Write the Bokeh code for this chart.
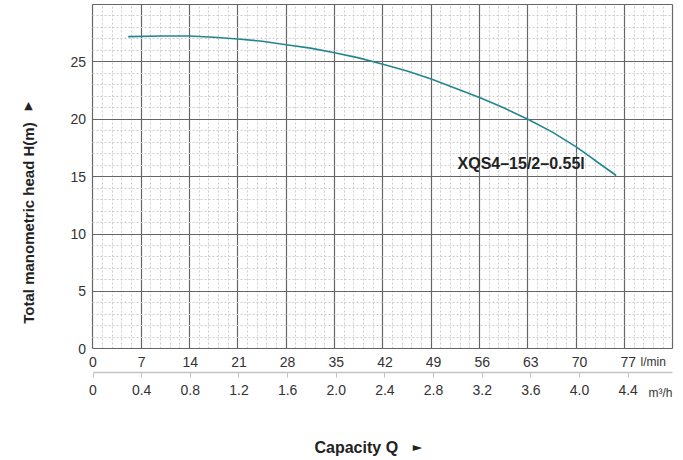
import math
from bokeh.plotting import figure
from bokeh.models import FixedTicker, LinearAxis, Range1d, Label, Grid
from bokeh.embed import file_html
from bokeh.resources import INLINE

# ---- data ----
flow_lpm = [5.1, 10, 14, 17.5, 21, 24.5, 28, 31.5, 35, 38.5, 42, 45.5, 49, 52.5, 56, 59.5, 63, 66.5, 70, 72.1, 73, 75.8]
head_m = [27.2, 27.25, 27.25, 27.15, 27.0, 26.8, 26.5, 26.2, 25.8, 25.35, 24.8, 24.2, 23.5, 22.7, 21.9, 21.0, 20.0, 18.9, 17.6, 16.7, 16.3, 15.1]
lpm_ticks = [0, 7, 14, 21, 28, 35, 42, 49, 56, 63, 70, 77]
lpm_labels = ["0", "7", "14", "21", "28", "35", "42", "49", "56", "63", "70", "77"]
m3h_labels = ["0", "0.4", "0.8", "1.2", "1.6", "2.0", "2.4", "2.8", "3.2", "3.6", "4.0", "4.4"]
head_ticks = [0, 5, 10, 15, 20, 25]
model_name = "XQS4\u201315/2\u20130.55l"
x_title = "Capacity Q"
y_title = "Total manometric head H(m)"
x_unit = "l/min"
x2_unit = "m\u00b3/h"

FONT = "Liberation Sans"
TXT = "#333333"
DARK = "#222222"

# chart area: x 0..84 l/min, y 0..30 m ; frame spans the whole canvas
p = figure(width=683, height=460,
           x_range=Range1d(-13.40, 85.55), y_range=Range1d(-9.733, 30.349),
           output_backend="svg", toolbar_location=None,
           min_border_left=0, min_border_right=0, min_border_top=0, min_border_bottom=0,
           x_axis_location=None, y_axis_location=None)
p.background_fill_color = "white"
p.border_fill_color = "white"
p.outline_line_color = None
for g in p.grid:
    g.visible = False

# grids (limited to the chart area)
x_major = [7 * i for i in range(13)]
x_minor = [round(1.4 * i, 2) for i in range(61) if i % 5 != 0]
y_major = [5 * i for i in range(7)]
y_minor = [i for i in range(31) if i % 5 != 0]
p.add_layout(Grid(dimension=0, ticker=FixedTicker(ticks=x_major, minor_ticks=x_minor),
                  cross_bounds=(0, 30),
                  grid_line_color="#666666", grid_line_width=1.2,
                  minor_grid_line_color="#cccccc", minor_grid_line_dash="2 2"))
p.add_layout(Grid(dimension=1, ticker=FixedTicker(ticks=y_major, minor_ticks=y_minor),
                  cross_bounds=(0, 84),
                  grid_line_color="#666666", grid_line_width=1.2,
                  minor_grid_line_color="#cccccc", minor_grid_line_dash="2 2"))

# y axis pinned at x = 0
ya = LinearAxis(fixed_location=0, ticker=FixedTicker(ticks=head_ticks),
                axis_line_color=None, major_tick_line_color=None, minor_tick_line_color=None,
                major_tick_in=0, major_tick_out=0, major_label_standoff=7,
                major_label_text_font=FONT, major_label_text_font_size="14px",
                major_label_text_color=TXT)
p.add_layout(ya, "left")

# bottom axes (labels use a slightly wider scale, as in the reference)
p.extra_x_ranges = {"lab": Range1d(-13.31, 84.96)}
ax1 = LinearAxis(x_range_name="lab", fixed_location=0, ticker=FixedTicker(ticks=lpm_ticks),
                 major_label_overrides={t: s for t, s in zip(lpm_ticks, lpm_labels)},
                 axis_line_color=None, major_tick_line_color=None, minor_tick_line_color=None,
                 major_tick_in=0, major_tick_out=0, major_label_standoff=8,
                 major_label_text_font=FONT, major_label_text_font_size="14px",
                 major_label_text_color=TXT)
p.add_layout(ax1, "below")
ax2 = LinearAxis(x_range_name="lab", fixed_location=-2.065, ticker=FixedTicker(ticks=lpm_ticks),
                 bounds=(0, 83.42),
                 major_label_overrides={t: s for t, s in zip(lpm_ticks, m3h_labels)},
                 axis_line_color="#c4c4c4", axis_line_width=1.5,
                 major_tick_line_color="#c4c4c4", major_tick_in=0, major_tick_out=5,
                 minor_tick_line_color=None, major_label_standoff=8,
                 major_label_text_font=FONT, major_label_text_font_size="14px",
                 major_label_text_color=TXT)
p.add_layout(ax2, "below")

# curve
p.line(flow_lpm, head_m, line_color="#23868e", line_width=1.6)

# texts
p.add_layout(Label(x=52.81, y=16.17, text=model_name, text_font=FONT, text_font_size="16px",
                   text_font_style="bold", text_color=DARK, text_baseline="middle"))
p.add_layout(Label(x=79.32, y=-1.19, text=x_unit, text_font=FONT, text_font_size="12px",
                   text_color=TXT, text_baseline="middle"))
p.add_layout(Label(x=80.48, y=-3.81, text=x2_unit, text_font=FONT, text_font_size="12px",
                   text_color=TXT, text_baseline="middle"))
p.add_layout(Label(x=32.09, y=-8.60, text=x_title, text_font=FONT, text_font_size="16px",
                   text_font_style="bold", text_color=DARK, text_baseline="middle"))
p.add_layout(Label(x=47.01, y=-8.60, text="\u25ba", text_font="DejaVu Sans", text_font_size="12px",
                   text_color=DARK, text_baseline="middle", text_align="center"))
p.add_layout(Label(x=-9.345, y=10.96, text=y_title, angle=math.pi / 2, text_font=FONT,
                   text_font_size="15px", text_font_style="bold", text_color=DARK,
                   text_baseline="middle", text_align="center"))
p.add_layout(Label(x=-9.345, y=21.19, text="\u25b2", text_font="DejaVu Sans", text_font_size="11px",
                   text_color=DARK, text_baseline="middle", text_align="center"))

open("out.html", "w").write(file_html(p, INLINE))
